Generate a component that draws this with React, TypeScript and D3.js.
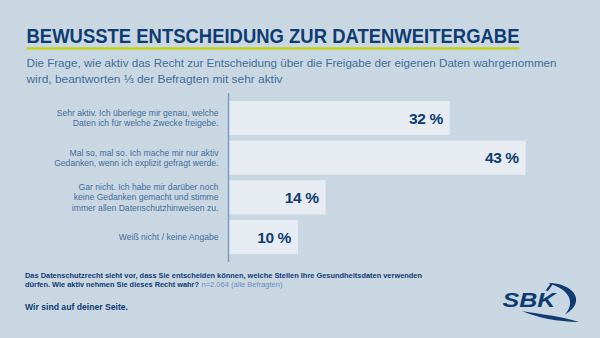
import React from "react";
import * as d3 from "d3";

const categories: string[][] = [
  ["Sehr aktiv. Ich überlege mir genau, welche", "Daten ich für welche Zwecke freigebe."],
  ["Mal so, mal so. Ich mache mir nur aktiv", "Gedanken, wenn ich explizit gefragt werde."],
  ["Gar nicht. Ich habe mir darüber noch", "keine Gedanken gemacht und stimme", "immer allen Datenschutzhinweisen zu."],
  ["Weiß nicht / keine Angabe"],
];
const values: number[] = [32, 43, 14, 10];
const valueLabels: string[] = ["32 %", "43 %", "14 %", "10 %"];

const title = "BEWUSSTE ENTSCHEIDUNG ZUR DATENWEITERGABE";
const subtitle = [
  "Die Frage, wie aktiv das Recht zur Entscheidung über die Freigabe der eigenen Daten wahrgenommen",
  "wird, beantworten ⅓ der Befragten mit sehr aktiv",
];
const footnote1 = "Das Datenschutzrecht sieht vor, dass Sie entscheiden können, welche Stellen Ihre Gesundheitsdaten verwenden";
const footnote2a = "dürfen. Wie aktiv nehmen Sie dieses Recht wahr?";
const footnote2b = "n=2.064 (alle Befragten)";
const slogan = "Wir sind auf deiner Seite.";

const W = 600;
const H = 338;
const BG = "#c9d7e3";
const BAR = "#e6ecf1";
const DARK = "#0e3c72";
const MID = "#416d9a";
const FONT = "'Liberation Sans', Arial, sans-serif";

export default function App() {
  const ids = categories.map((_, i) => String(i));
  const x = d3.scaleLinear().domain([0, 100]).range([229, 229 + 690]);
  const y = d3.scaleBand<string>().domain(ids).range([101, 254]).paddingInner(0.14).paddingOuter(0);
  const bw = y.bandwidth();

  return (
    <svg
      width={W}
      height={H}
      viewBox={`0 0 ${W} ${H}`}
      style={{ position: "absolute", left: 0, top: 0, fontFamily: FONT }}
    >
      <rect x={0} y={0} width={W} height={H} fill={BG} />

      {/* Title */}
      <text x={26.5} y={43.3} fontSize={19.5} fontWeight="bold" fill={DARK} textLength={493} lengthAdjust="spacingAndGlyphs">
        {title}
      </text>
      <rect x={26.5} y={47.3} width={493} height={2.2} fill="#c2d300" />

      {/* Subtitle */}
      {subtitle.map((s, i) => (
        <text
          key={i}
          x={26.5}
          y={66.7 + i * 16}
          fontSize={10.5}
          fill={MID}
          textLength={i === 0 ? 530 : 256}
          lengthAdjust="spacingAndGlyphs"
        >
          {s}
        </text>
      ))}

      {/* Bars */}
      {values.map((v, i) => (
        <g key={i}>
          <rect x={x(0)} y={y(ids[i])!} width={x(v) - x(0)} height={bw} fill={BAR} />
          <text
            x={x(v) - 7}
            y={y(ids[i])! + bw / 2 + 5.6}
            textAnchor="end"
            fontSize={15.5}
            fontWeight="bold"
            fill={DARK}
            letterSpacing={-0.4}
          >
            {valueLabels[i]}
          </text>
        </g>
      ))}

      {/* Category labels */}
      {categories.map((lines, i) => {
        const cy = y(ids[i])! + bw / 2;
        const lh = 10.3;
        const start = cy - ((lines.length - 1) * lh) / 2 + 3.1;
        return (
          <text key={i} textAnchor="end" fontSize={8.6} fill={MID}>
            {lines.map((l, j) => (
              <tspan key={j} x={218.5} y={start + j * lh}>
                {l}
              </tspan>
            ))}
          </text>
        );
      })}

      {/* Axis line */}
      <line x1={x(0) - 0.5} x2={x(0) - 0.5} y1={93} y2={262} stroke="#7b9cbd" strokeWidth={1.5} />

      {/* Footnote */}
      <text x={25} y={278} fontSize={7.6} fontWeight="bold" fill={DARK} textLength={397} lengthAdjust="spacingAndGlyphs">
        {footnote1}
      </text>
      <text x={25} y={287.3} fontSize={7.6} fontWeight="bold" fill={DARK} textLength={174} lengthAdjust="spacingAndGlyphs">
        {footnote2a}
      </text>
      <text x={201.5} y={287.3} fontSize={7.6} fill="#6b8fb6" textLength={81} lengthAdjust="spacingAndGlyphs">
        {footnote2b}
      </text>
      <text x={25} y={310.3} fontSize={9.6} fontWeight="bold" fill={DARK} textLength={103} lengthAdjust="spacingAndGlyphs">
        {slogan}
      </text>

      {/* Logo */}
      <g fill={DARK}>
        <text x={502.5} y={307} fontSize={20} fontWeight="bold" fontStyle="italic" textLength={53} lengthAdjust="spacingAndGlyphs">
          SBK
        </text>
        <path d="M548 283 C574 283, 587 302, 565 314.5 C575 303, 571 290, 548 283 Z" />
        <path d="M522 311 C538 318, 557 321.5, 579 322 C561 316, 541 314.5, 522 311 Z" />
        <path d="M545.5 290.5 L551 283 L553 284 L548 291 Z" />
      </g>
    </svg>
  );
}
